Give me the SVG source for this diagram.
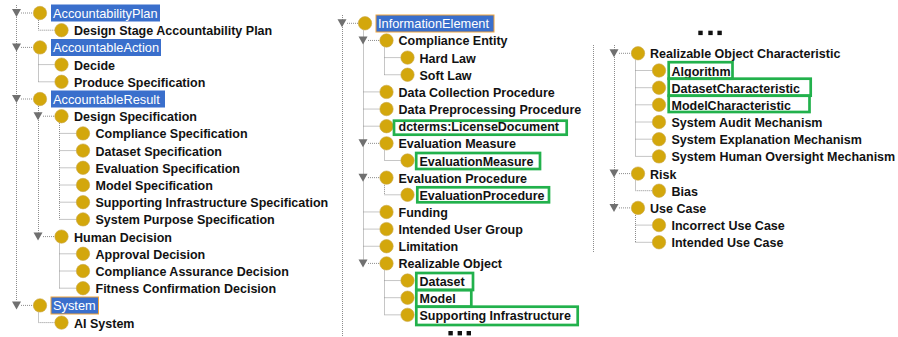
<svg xmlns="http://www.w3.org/2000/svg" width="898" height="337" viewBox="0 0 898 337">
<defs>
<style>
.t{font-family:"Liberation Sans",Arial,sans-serif;font-size:12.5px;font-weight:bold;fill:#121212}
.h{font-family:"Liberation Sans",Arial,sans-serif;font-size:12.8px;font-weight:normal;fill:#ffffff}
.hl{fill:#3a6fcc}
.fo{stroke:#f0a33a;stroke-width:1}
.c{fill:#d3a70c;stroke:#c9a84a;stroke-width:0.6}
.tri{fill:#707070}
.con{fill:none;stroke:#8c8c8c;stroke-width:1;stroke-dasharray:1 1}
.g{fill:none;stroke:#22b14c;stroke-width:2.7}
.dot{fill:#111}
</style>
</defs>
<rect width="898" height="337" fill="#ffffff"/>

<g id="connectors">
<!-- left column -->
<path class="con" d="M16.5 5V301"/>
<path class="con" d="M21 13H33.3M21 47.4H33.3M21 99H33.3M21 305.4H33.3"/>
<path class="con" d="M38.5 20V30.2H54.8"/>
<path class="con" d="M38.5 54.5V81.8M38.5 64.6H54.8M38.5 81.8H54.8"/>
<path class="con" d="M38.5 106V232.5"/>
<path class="con" d="M43 116.2H54.8M43 236.6H54.8"/>
<path class="con" d="M59.5 123V219.4M59.5 133.4H76.3M59.5 150.6H76.3M59.5 167.8H76.3M59.5 185H76.3M59.5 202.2H76.3M59.5 219.4H76.3"/>
<path class="con" d="M59.5 243.5V288.2M59.5 253.8H76.3M59.5 271H76.3M59.5 288.2H76.3"/>
<path class="con" d="M38.5 312.5V322.6H54.8"/>
<!-- middle column -->
<path class="con" d="M342.5 15V337"/>
<path class="con" d="M347 23.3H358.3"/>
<path class="con" d="M363.5 30.5V259.4"/>
<path class="con" d="M368 40.45H379.8M368 143.35H379.8M368 177.65H379.8M368 263.4H379.8"/>
<path class="con" d="M363.5 91.9H379.8M363.5 109.05H379.8M363.5 126.2H379.8M363.5 211.95H379.8M363.5 229.1H379.8M363.5 246.25H379.8"/>
<path class="con" d="M384.5 47.5V74.75M384.5 57.6H400.8M384.5 74.75H400.8"/>
<path class="con" d="M384.5 150.5V160.5H400.8"/>
<path class="con" d="M384.5 184.8V194.8H400.8"/>
<path class="con" d="M384.5 270.5V314.85M384.5 280.55H400.8M384.5 297.7H400.8M384.5 314.85H400.8"/>
<!-- right column -->
<path class="con" d="M593.5 45V253"/>
<path class="con" d="M614.5 45V204"/>
<path class="con" d="M619 53.3H631.3M619 173.6H631.3M619 207.9H631.3"/>
<path class="con" d="M635.5 60.5V156.4M635.5 70.5H652.3M635.5 87.7H652.3M635.5 104.8H652.3M635.5 122H652.3M635.5 139.2H652.3M635.5 156.4H652.3"/>
<path class="con" d="M635.5 180.5V190.7H652.3"/>
<path class="con" d="M635.5 215V242.3M635.5 225.1H652.3M635.5 242.3H652.3"/>
</g>

<!-- LEFT COLUMN -->
<g id="n-accountabilityplan">
<polygon class="tri" points="12,9 21,9 16.5,17"/>
<circle class="c" cx="40" cy="13" r="6.7"/>
<rect class="hl" x="51" y="4.5" width="109" height="17"/>
<text class="h" x="53" y="17.8">AccountabilityPlan</text>
</g>
<g id="n-designstage"><circle class="c" cx="61.5" cy="30.2" r="6.7"/><text class="t" x="74" y="35.2">Design Stage Accountability Plan</text></g>
<g id="n-accountableaction">
<polygon class="tri" points="12,43.4 21,43.4 16.5,51.4"/>
<circle class="c" cx="40" cy="47.4" r="6.7"/>
<rect class="hl" x="51" y="39" width="110" height="17"/>
<text class="h" x="53" y="52.2">AccountableAction</text>
</g>
<g id="n-decide"><circle class="c" cx="61.5" cy="64.6" r="6.7"/><text class="t" x="74" y="69.6">Decide</text></g>
<g id="n-producespec"><circle class="c" cx="61.5" cy="81.8" r="6.7"/><text class="t" x="74" y="86.8">Produce Specification</text></g>
<g id="n-accountableresult">
<polygon class="tri" points="12,95 21,95 16.5,103"/>
<circle class="c" cx="40" cy="99" r="6.7"/>
<rect class="hl" x="51" y="90.5" width="114" height="17"/>
<text class="h" x="53" y="103.8">AccountableResult</text>
</g>
<g id="n-designspec">
<polygon class="tri" points="33.5,112.2 42.5,112.2 38,120.2"/>
<circle class="c" cx="61.5" cy="116.2" r="6.7"/><text class="t" x="74" y="121.2">Design Specification</text>
</g>
<g id="n-compliancespec"><circle class="c" cx="83" cy="133.4" r="6.7"/><text class="t" x="95.5" y="138.4">Compliance Specification</text></g>
<g id="n-datasetspec"><circle class="c" cx="83" cy="150.6" r="6.7"/><text class="t" x="95.5" y="155.6">Dataset Specification</text></g>
<g id="n-evaluationspec"><circle class="c" cx="83" cy="167.8" r="6.7"/><text class="t" x="95.5" y="172.8">Evaluation Specification</text></g>
<g id="n-modelspec"><circle class="c" cx="83" cy="185" r="6.7"/><text class="t" x="95.5" y="190">Model Specification</text></g>
<g id="n-supportingspec"><circle class="c" cx="83" cy="202.2" r="6.7"/><text class="t" x="95.5" y="207.2">Supporting Infrastructure Specification</text></g>
<g id="n-systempurposespec"><circle class="c" cx="83" cy="219.4" r="6.7"/><text class="t" x="95.5" y="224.4">System Purpose Specification</text></g>
<g id="n-humandecision">
<polygon class="tri" points="33.5,232.6 42.5,232.6 38,240.6"/>
<circle class="c" cx="61.5" cy="236.6" r="6.7"/><text class="t" x="74" y="241.6">Human Decision</text>
</g>
<g id="n-approval"><circle class="c" cx="83" cy="253.8" r="6.7"/><text class="t" x="95.5" y="258.8">Approval Decision</text></g>
<g id="n-complianceassurance"><circle class="c" cx="83" cy="271" r="6.7"/><text class="t" x="95.5" y="276">Compliance Assurance Decision</text></g>
<g id="n-fitness"><circle class="c" cx="83" cy="288.2" r="6.7"/><text class="t" x="95.5" y="293.2">Fitness Confirmation Decision</text></g>
<g id="n-system">
<polygon class="tri" points="12,301.4 21,301.4 16.5,309.4"/>
<circle class="c" cx="40" cy="305.4" r="6.7"/>
<rect class="hl fo" x="51" y="297" width="47.5" height="17"/>
<text class="h" x="53" y="310.2">System</text>
</g>
<g id="n-aisystem"><circle class="c" cx="61.5" cy="322.6" r="6.7"/><text class="t" x="74" y="327.6">AI System</text></g>

<!-- MIDDLE COLUMN -->
<g id="n-informationelement">
<polygon class="tri" points="337.5,19.3 346.5,19.3 342,27.3"/>
<circle class="c" cx="365" cy="23.3" r="6.7"/>
<rect class="hl fo" x="376" y="15" width="118" height="17"/>
<text class="h" x="378" y="28.1">InformationElement</text>
</g>
<g id="n-complianceentity">
<polygon class="tri" points="358.5,36.45 367.5,36.45 363,44.45"/>
<circle class="c" cx="386.5" cy="40.45" r="6.7"/><text class="t" x="398.5" y="45.45">Compliance Entity</text>
</g>
<g id="n-hardlaw"><circle class="c" cx="407.5" cy="57.6" r="6.7"/><text class="t" x="419.5" y="62.6">Hard Law</text></g>
<g id="n-softlaw"><circle class="c" cx="407.5" cy="74.75" r="6.7"/><text class="t" x="419.5" y="79.75">Soft Law</text></g>
<g id="n-datacollection"><circle class="c" cx="386.5" cy="91.9" r="6.7"/><text class="t" x="398.5" y="96.9">Data Collection Procedure</text></g>
<g id="n-datapreprocessing"><circle class="c" cx="386.5" cy="109.05" r="6.7"/><text class="t" x="398.5" y="114.05">Data Preprocessing Procedure</text></g>
<g id="n-licensedocument">
<circle class="c" cx="386.5" cy="126.2" r="6.7"/>
<rect class="g" x="394" y="120.7" width="172.7" height="14"/>
<text class="t" x="398.5" y="131.2">dcterms:LicenseDocument</text>
</g>
<g id="n-evaluationmeasure-group">
<polygon class="tri" points="358.5,139.35 367.5,139.35 363,147.35"/>
<circle class="c" cx="386.5" cy="143.35" r="6.7"/><text class="t" x="398.5" y="148.35">Evaluation Measure</text>
</g>
<g id="n-evaluationmeasure">
<circle class="c" cx="407.5" cy="160.5" r="6.7"/>
<rect class="g" x="416.2" y="153" width="123.8" height="16"/>
<text class="t" x="419.5" y="165.5">EvaluationMeasure</text>
</g>
<g id="n-evaluationprocedure-group">
<polygon class="tri" points="358.5,173.65 367.5,173.65 363,181.65"/>
<circle class="c" cx="386.5" cy="177.65" r="6.7"/><text class="t" x="398.5" y="182.65">Evaluation Procedure</text>
</g>
<g id="n-evaluationprocedure">
<circle class="c" cx="407.5" cy="194.8" r="6.7"/>
<rect class="g" x="417.3" y="187.3" width="131.7" height="15"/>
<text class="t" x="419.5" y="199.8">EvaluationProcedure</text>
</g>
<g id="n-funding"><circle class="c" cx="386.5" cy="211.95" r="6.7"/><text class="t" x="398.5" y="216.95">Funding</text></g>
<g id="n-intendedusergroup"><circle class="c" cx="386.5" cy="229.1" r="6.7"/><text class="t" x="398.5" y="234.1">Intended User Group</text></g>
<g id="n-limitation"><circle class="c" cx="386.5" cy="246.25" r="6.7"/><text class="t" x="398.5" y="251.25">Limitation</text></g>
<g id="n-realizableobject">
<polygon class="tri" points="358.5,259.4 367.5,259.4 363,267.4"/>
<circle class="c" cx="386.5" cy="263.4" r="6.7"/><text class="t" x="398.5" y="268.4">Realizable Object</text>
</g>
<g id="n-dataset">
<circle class="c" cx="407.5" cy="280.55" r="6.7"/>
<rect class="g" x="416.3" y="273" width="56.7" height="17"/>
<text class="t" x="419.5" y="285.55">Dataset</text>
</g>
<g id="n-model">
<circle class="c" cx="407.5" cy="297.7" r="6.7"/>
<rect class="g" x="416.3" y="290" width="55" height="16.7"/>
<text class="t" x="419.5" y="302.7">Model</text>
</g>
<g id="n-supportinginfra">
<circle class="c" cx="407.5" cy="314.85" r="6.7"/>
<rect class="g" x="416.3" y="306.7" width="161.4" height="18.3"/>
<text class="t" x="419.5" y="319.85">Supporting Infrastructure</text>
</g>
<g id="ellipsis-bottom">
<rect class="dot" x="448.4" y="331" width="4.4" height="4.4"/>
<rect class="dot" x="457.6" y="331" width="4.4" height="4.4"/>
<rect class="dot" x="466.6" y="331" width="4.4" height="4.4"/>
</g>

<!-- RIGHT COLUMN -->
<g id="ellipsis-top">
<rect class="dot" x="698.3" y="30.7" width="4.4" height="4.4"/>
<rect class="dot" x="708.3" y="30.7" width="4.4" height="4.4"/>
<rect class="dot" x="717.4" y="30.7" width="4.4" height="4.4"/>
</g>
<g id="n-realizableobjectchar">
<polygon class="tri" points="609.5,49.3 618.5,49.3 614,57.3"/>
<circle class="c" cx="638" cy="53.3" r="6.7"/><text class="t" x="650" y="58.3">Realizable Object Characteristic</text>
</g>
<g id="n-algorithm">
<circle class="c" cx="659" cy="70.5" r="6.7"/>
<rect class="g" x="668.7" y="62.2" width="63.8" height="16.5"/>
<text class="t" x="671.5" y="75.5">Algorithm</text>
</g>
<g id="n-datasetchar">
<circle class="c" cx="659" cy="87.7" r="6.7"/>
<rect class="g" x="668.7" y="78.7" width="142" height="17"/>
<text class="t" x="671.5" y="92.7">DatasetCharacteristic</text>
</g>
<g id="n-modelchar">
<circle class="c" cx="659" cy="104.8" r="6.7"/>
<rect class="g" x="668.7" y="95.7" width="140.8" height="16.3"/>
<text class="t" x="671.5" y="109.8">ModelCharacteristic</text>
</g>
<g id="n-systemaudit"><circle class="c" cx="659" cy="122" r="6.7"/><text class="t" x="671.5" y="127">System Audit Mechanism</text></g>
<g id="n-systemexplanation"><circle class="c" cx="659" cy="139.2" r="6.7"/><text class="t" x="671.5" y="144.2">System Explanation Mechanism</text></g>
<g id="n-systemhumanoversight"><circle class="c" cx="659" cy="156.4" r="6.7"/><text class="t" x="671.5" y="161.4">System Human Oversight Mechanism</text></g>
<g id="n-risk">
<polygon class="tri" points="609.5,169.6 618.5,169.6 614,177.6"/>
<circle class="c" cx="638" cy="173.6" r="6.7"/><text class="t" x="650" y="178.6">Risk</text>
</g>
<g id="n-bias"><circle class="c" cx="659" cy="190.7" r="6.7"/><text class="t" x="671.5" y="195.7">Bias</text></g>
<g id="n-usecase">
<polygon class="tri" points="609.5,203.9 618.5,203.9 614,211.9"/>
<circle class="c" cx="638" cy="207.9" r="6.7"/><text class="t" x="650" y="212.9">Use Case</text>
</g>
<g id="n-incorrectusecase"><circle class="c" cx="659" cy="225.1" r="6.7"/><text class="t" x="671.5" y="230.1">Incorrect Use Case</text></g>
<g id="n-intendedusecase"><circle class="c" cx="659" cy="242.3" r="6.7"/><text class="t" x="671.5" y="247.3">Intended Use Case</text></g>
</svg>
